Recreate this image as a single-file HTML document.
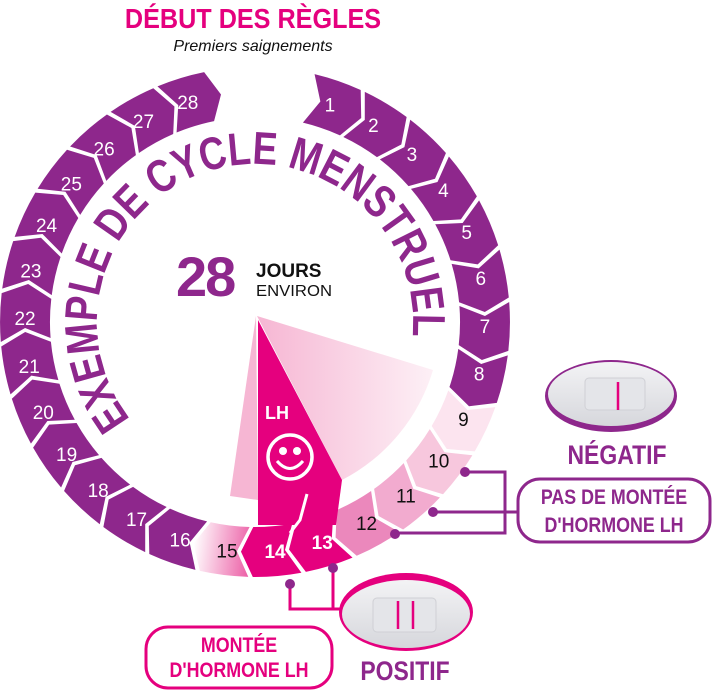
<!DOCTYPE html>
<html><head><meta charset="utf-8"><style>
html,body{margin:0;padding:0;background:#fff;}
svg{display:block;}
text{font-family:"Liberation Sans",sans-serif;}
</style></head><body>
<svg width="721" height="693" viewBox="0 0 721 693" xmlns="http://www.w3.org/2000/svg">
<defs>
<path id="seg" d="M -24.4,-253.8 A 255 255 0 0 1 24.4,-253.8 L 34,-227.5 L 19.6,-204.1 A 205 205 0 0 0 -19.6,-204.1 L -10,-229.8 Z"/>
<linearGradient id="g15" x1="1" y1="0" x2="0" y2="0"><stop offset="0" stop-color="#fff"/><stop offset="1" stop-color="#ec5fa6"/></linearGradient>
<linearGradient id="wedge" x1="0" y1="0" x2="1" y2="0"><stop offset="0" stop-color="#f6b6d3"/><stop offset="1" stop-color="#fdf0f6"/></linearGradient>
<linearGradient id="oval" x1="0" y1="0" x2="0" y2="1"><stop offset="0" stop-color="#f3f3f5"/><stop offset="1" stop-color="#d6d7dc"/></linearGradient>
<path id="arc" d="M 130.5,419.3 A 158 158 0 1 1 412.4,335.8"/>
</defs>

<text x="253" y="28" text-anchor="middle" font-size="28" font-weight="bold" fill="#e5007e" transform="translate(253,0) scale(0.9,1) translate(-253,0)">DÉBUT DES RÈGLES</text>
<text x="253" y="51" text-anchor="middle" font-size="16" font-style="italic" fill="#111">Premiers saignements</text>

<g fill="#8e278c">
<use href="#seg" transform="translate(255,322) rotate(19)"/>
<use href="#seg" transform="translate(255,322) rotate(31)"/>
<use href="#seg" transform="translate(255,322) rotate(43)"/>
<use href="#seg" transform="translate(255,322) rotate(55)"/>
<use href="#seg" transform="translate(255,322) rotate(67)"/>
<use href="#seg" transform="translate(255,322) rotate(79)"/>
<use href="#seg" transform="translate(255,322) rotate(91)"/>
<use href="#seg" transform="translate(255,322) rotate(103)"/>
<use href="#seg" transform="translate(255,322) rotate(199)"/>
<use href="#seg" transform="translate(255,322) rotate(211)"/>
<use href="#seg" transform="translate(255,322) rotate(223)"/>
<use href="#seg" transform="translate(255,322) rotate(235)"/>
<use href="#seg" transform="translate(255,322) rotate(247)"/>
<use href="#seg" transform="translate(255,322) rotate(259)"/>
<use href="#seg" transform="translate(255,322) rotate(271)"/>
<use href="#seg" transform="translate(255,322) rotate(283)"/>
<use href="#seg" transform="translate(255,322) rotate(295)"/>
<use href="#seg" transform="translate(255,322) rotate(307)"/>
<use href="#seg" transform="translate(255,322) rotate(319)"/>
<use href="#seg" transform="translate(255,322) rotate(331)"/>
<use href="#seg" transform="translate(255,322) rotate(343)"/>
</g>
<use href="#seg" fill="#fce4ef" transform="translate(255,322) rotate(115)"/>
<use href="#seg" fill="#f7c7dd" transform="translate(255,322) rotate(127)"/>
<use href="#seg" fill="#f2abcf" transform="translate(255,322) rotate(139)"/>
<use href="#seg" fill="#eb88bc" transform="translate(255,322) rotate(151)"/>

<path d="M257,316 L433,370 A 182 182 0 0 1 342,480 Z" fill="url(#wedge)"/>
<path d="M256,316 L258,500 L230,496 Z" fill="#f6b6d3"/>
<path d="M258,320 L342,480 L336,525 L258,525 Z" fill="#e5007e"/>
<use href="#seg" fill="#e5007e" transform="translate(255,322) rotate(163)"/>
<use href="#seg" fill="#e5007e" transform="translate(255,322) rotate(175)"/>
<use href="#seg" fill="url(#g15)" transform="translate(255,322) rotate(187)"/>
<path d="M307,494 L300,520 L290,533" stroke="#fff" stroke-width="3" fill="none"/>
<text x="277" y="419" text-anchor="middle" font-size="18" font-weight="bold" fill="#fff">LH</text>
<circle cx="290" cy="457" r="22" fill="none" stroke="#fff" stroke-width="3.5"/>
<circle cx="283" cy="451" r="4" fill="#fff"/><circle cx="297" cy="451" r="4" fill="#fff"/>
<path d="M277,461 Q290,476 303,461" fill="none" stroke="#fff" stroke-width="3"/>

<g font-size="19" text-anchor="middle" fill="#fff">
<text transform="rotate(19,255,322) translate(255,92) rotate(-19)" dy="7">1</text>
<text transform="rotate(31,255,322) translate(255,92) rotate(-31)" dy="7">2</text>
<text transform="rotate(43,255,322) translate(255,92) rotate(-43)" dy="7">3</text>
<text transform="rotate(55,255,322) translate(255,92) rotate(-55)" dy="7">4</text>
<text transform="rotate(67,255,322) translate(255,92) rotate(-67)" dy="7">5</text>
<text transform="rotate(79,255,322) translate(255,92) rotate(-79)" dy="7">6</text>
<text transform="rotate(91,255,322) translate(255,92) rotate(-91)" dy="7">7</text>
<text transform="rotate(103,255,322) translate(255,92) rotate(-103)" dy="7">8</text>
<text fill="#111" transform="rotate(115,255,322) translate(255,92) rotate(-115)" dy="7">9</text>
<text fill="#111" transform="rotate(127,255,322) translate(255,92) rotate(-127)" dy="7">10</text>
<text fill="#111" transform="rotate(139,255,322) translate(255,92) rotate(-139)" dy="7">11</text>
<text fill="#111" transform="rotate(151,255,322) translate(255,92) rotate(-151)" dy="7">12</text>
<text font-weight="bold" transform="rotate(163,255,322) translate(255,92) rotate(-163)" dy="7">13</text>
<text font-weight="bold" transform="rotate(175,255,322) translate(255,92) rotate(-175)" dy="7">14</text>
<text fill="#111" transform="rotate(187,255,322) translate(255,92) rotate(-187)" dy="7">15</text>
<text transform="rotate(199,255,322) translate(255,92) rotate(-199)" dy="7">16</text>
<text transform="rotate(211,255,322) translate(255,92) rotate(-211)" dy="7">17</text>
<text transform="rotate(223,255,322) translate(255,92) rotate(-223)" dy="7">18</text>
<text transform="rotate(235,255,322) translate(255,92) rotate(-235)" dy="7">19</text>
<text transform="rotate(247,255,322) translate(255,92) rotate(-247)" dy="7">20</text>
<text transform="rotate(259,255,322) translate(255,92) rotate(-259)" dy="7">21</text>
<text transform="rotate(271,255,322) translate(255,92) rotate(-271)" dy="7">22</text>
<text transform="rotate(283,255,322) translate(255,92) rotate(-283)" dy="7">23</text>
<text transform="rotate(295,255,322) translate(255,92) rotate(-295)" dy="7">24</text>
<text transform="rotate(307,255,322) translate(255,92) rotate(-307)" dy="7">25</text>
<text transform="rotate(319,255,322) translate(255,92) rotate(-319)" dy="7">26</text>
<text transform="rotate(331,255,322) translate(255,92) rotate(-331)" dy="7">27</text>
<text transform="rotate(343,255,322) translate(255,92) rotate(-343)" dy="7">28</text>
</g>

<text font-size="46" font-weight="bold" fill="#8e278c"><textPath href="#arc" textLength="615" lengthAdjust="spacingAndGlyphs">EXEMPLE DE CYCLE MENSTRUEL</textPath></text>

<text x="176" y="296" font-size="56" font-weight="bold" fill="#8e278c" letter-spacing="-2">28</text>
<text x="256" y="277" font-size="19" font-weight="bold" fill="#111">JOURS</text>
<text x="256" y="296" font-size="16" fill="#111" textLength="76" lengthAdjust="spacingAndGlyphs">ENVIRON</text>

<ellipse cx="611" cy="396" rx="66" ry="36" fill="#8e278c"/>
<ellipse cx="611" cy="394" rx="63" ry="32" fill="url(#oval)"/>
<rect x="585" y="378" width="60" height="32" rx="4" fill="#e4e5e9" stroke="#cfd0d5"/>
<line x1="618" y1="382" x2="618" y2="410" stroke="#e5007e" stroke-width="2.5"/>
<text x="617" y="464" text-anchor="middle" font-size="27" font-weight="bold" fill="#8e278c" transform="translate(617,0) scale(0.85,1) translate(-617,0)">NÉGATIF</text>

<rect x="518" y="479" width="192" height="63" rx="22" fill="#fff" stroke="#8e278c" stroke-width="3"/>
<text x="614" y="504" text-anchor="middle" font-size="21" font-weight="bold" fill="#8e278c" transform="translate(614,0) scale(0.85,1) translate(-614,0)">PAS DE MONTÉE</text>
<text x="614" y="532" text-anchor="middle" font-size="21" font-weight="bold" fill="#8e278c" transform="translate(614,0) scale(0.85,1) translate(-614,0)">D'HORMONE LH</text>
<g stroke="#8e278c" stroke-width="3" fill="none">
<path d="M465,472 L505,472 L505,533 L395,533"/>
<path d="M433,512 L518,512"/>
</g>
<g fill="#8e278c"><circle cx="465" cy="472" r="5"/><circle cx="433" cy="512" r="5"/><circle cx="395" cy="534" r="5"/></g>

<g stroke="#e5007e" stroke-width="3" fill="none"><path d="M290,584 L290,609 L340,609"/><path d="M333,568 L333,609"/></g>
<g fill="#8e278c"><circle cx="290" cy="584" r="5"/><circle cx="333" cy="568" r="5"/></g>
<ellipse cx="406" cy="612" rx="67" ry="39" fill="#e5007e"/>
<ellipse cx="406" cy="614" rx="64" ry="34" fill="url(#oval)"/>
<rect x="373" y="598" width="63" height="34" rx="4" fill="#e4e5e9" stroke="#cfd0d5"/>
<line x1="398" y1="601" x2="398" y2="629" stroke="#e5007e" stroke-width="2.5"/>
<line x1="413" y1="601" x2="413" y2="629" stroke="#e5007e" stroke-width="2.5"/>
<text x="405" y="680" text-anchor="middle" font-size="27" font-weight="bold" fill="#8e278c" transform="translate(405,0) scale(0.85,1) translate(-405,0)">POSITIF</text>

<rect x="146" y="627" width="186" height="61" rx="22" fill="#fff" stroke="#e5007e" stroke-width="3"/>
<text x="239" y="652" text-anchor="middle" font-size="21" font-weight="bold" fill="#e5007e" transform="translate(239,0) scale(0.85,1) translate(-239,0)">MONTÉE</text>
<text x="239" y="677" text-anchor="middle" font-size="21" font-weight="bold" fill="#e5007e" transform="translate(239,0) scale(0.85,1) translate(-239,0)">D'HORMONE LH</text>
</svg>
</body></html>
